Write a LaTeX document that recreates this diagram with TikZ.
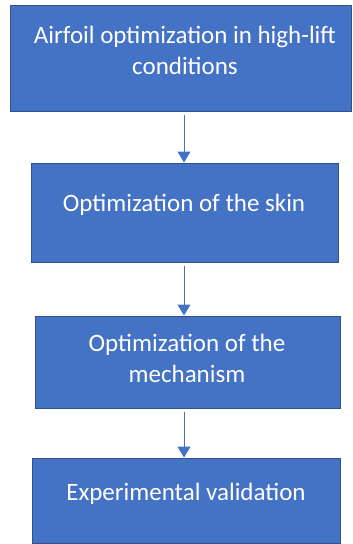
\documentclass[tikz,border=0pt]{standalone}
\usepackage{fontspec}
\setmainfont{Carlito}
\usetikzlibrary{arrows.meta}
\definecolor{boxblue}{HTML}{4472C4}
\definecolor{boxedge}{HTML}{2F528F}
\tikzset{
  box/.style={draw=boxedge, line width=1pt, fill=boxblue, rectangle, inner sep=0pt},
  txt/.style={text=white, align=center, font=\fontsize{25}{31}\selectfont, inner sep=0pt},
  arr/.style={draw=boxblue, line width=1pt, -{Triangle[length=11pt,width=13pt]}, shorten <=3pt}
}
\begin{document}
\begin{tikzpicture}[x=1pt,y=-1pt]
\useasboundingbox (0,0) rectangle (353,544);
\node[box, minimum width=341pt, minimum height=106pt] (b1) at (180.5,58) {};
\node[box, minimum width=307pt, minimum height=99pt] (b2) at (184.5,212.5) {};
\node[box, minimum width=305pt, minimum height=92pt] (b3) at (187.5,362) {};
\node[box, minimum width=308pt, minimum height=85pt] (b4) at (186,500.5) {};
\node[txt] (t1) at (185,50) {Airfoil optimization in high-lift\\conditions};
\node[txt] (t2) at (184,205) {Optimization of the skin};
\node[txt] (t3) at (187,358) {Optimization of the\\mechanism};
\node[txt] (t4) at (186,494) {Experimental validation};
\coordinate (ax) at (184,0);
\draw[arr] (b1.south -| ax) -- (b2.north -| ax);
\draw[arr] (b2.south -| ax) -- (b3.north -| ax);
\draw[arr] (b3.south -| ax) -- (b4.north -| ax);
\end{tikzpicture}
\end{document}
